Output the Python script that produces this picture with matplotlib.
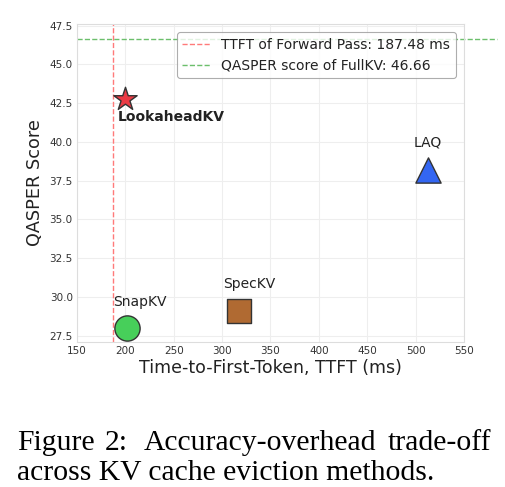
import matplotlib
matplotlib.use("Agg")
from matplotlib import pyplot as plt

# data
methods = ["LookaheadKV", "LAQ", "SnapKV", "SpecKV"]
ttft_ms = [200, 513, 202, 317]
qasper = [42.8, 38.2, 28.0, 29.1]
markers = ["*", "^", "o", "s"]
colors = ["#ea3a44", "#3366f2", "#47cf5a", "#b06a32"]
sizes = [310, 330, 330, 310]
label_offsets = [(33, -13), (0, 20), (9, 19), (8, 19)]

forward_ttft = 187.48
fullkv_score = 46.66
xticks = [150, 200, 250, 300, 350, 400, 450, 500, 550]
yticks = [27.5, 30.0, 32.5, 35.0, 37.5, 40.0, 42.5, 45.0, 47.5]

fig = plt.figure(figsize=(5.06, 4.87), dpi=100)
ax = fig.add_axes([0.152, 0.298, 0.765, 0.653])

ax.axvline(forward_ttft, color="#ff7a7a", linestyle="--", linewidth=1.0,
           label=f"TTFT of Forward Pass: {forward_ttft:.2f} ms", zorder=2)
ax.plot([150, 584], [fullkv_score, fullkv_score], color="#6cbf6c", linestyle="--",
        linewidth=1.0, clip_on=False, zorder=2,
        label=f"QASPER score of FullKV: {fullkv_score:.2f}")

for name, x, y, m, c, s, off in zip(methods, ttft_ms, qasper, markers, colors, sizes, label_offsets):
    ax.scatter(x, y, marker=m, s=s, color=c, edgecolor="#333333", linewidth=1.0, zorder=3)
    weight = "bold" if name == "LookaheadKV" else "normal"
    ax.annotate(name, (x, y), xytext=off, textcoords="offset points",
                ha="center", va="center", fontsize=10, fontweight=weight, color="#222222")

ax.set_xlim(150, 550)
ax.set_ylim(27.1, 47.62)
ax.set_xticks(xticks)
ax.set_yticks(yticks)
ax.set_yticklabels([f"{t:.1f}" for t in yticks])
ax.tick_params(length=0, labelsize=7.5, colors="#333333", pad=3)
ax.grid(color="#eeeeee", linewidth=0.8)
ax.set_axisbelow(True)
for sp in ax.spines.values():
    sp.set_color("#dddddd")

ax.set_xlabel("Time-to-First-Token, TTFT (ms)", fontsize=12.5, color="#222222", labelpad=2)
ax.set_ylabel("QASPER Score", fontsize=12.7, color="#222222", labelpad=4)

leg = ax.legend(loc="upper right", fontsize=10, frameon=True, fancybox=True,
                borderaxespad=0.6, handlelength=2.0)
leg.get_frame().set_edgecolor("#999999")
leg.get_frame().set_linewidth(0.8)
for t in leg.get_texts():
    t.set_color("#222222")

# caption, first line justified by spreading its words
cap_words = ["Figure", "2:", "Accuracy-overhead", "trade-off"]
cap_x = [0.034, 0.2075, 0.284, 0.767]
for w, x in zip(cap_words, cap_x):
    fig.text(x, 1 - 450 / 487, w, family="Liberation Serif", fontsize=21.3,
             ha="left", va="baseline")
fig.text(0.034, 1 - 480 / 487, "across KV cache eviction methods.",
         family="Liberation Serif", fontsize=21.3, ha="left", va="baseline")

fig.savefig("out.png", dpi=100)
